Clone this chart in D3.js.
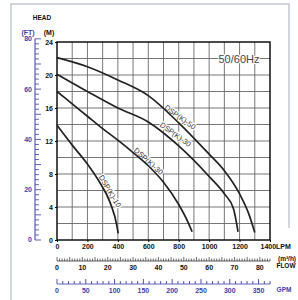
<!DOCTYPE html>
<html>
<head>
  <script src="https://cdn.jsdelivr.net/npm/d3@7"></script>
  <style>
    body { margin: 0; background: #fff; }
    text { font-family: "Liberation Sans", Arial, sans-serif; }
  </style>
</head>
<body>
  <svg width="298" height="300" id="mainsvg"></svg>
  <script>
    // data
    const flowTicks = [0, 200, 400, 600, 800, 1000, 1200, 1400];
    const headTicks = [0, 4, 8, 12, 16, 20, 24];
    const ftTicks = [0, 20, 40, 60, 80];
    const m3hTicks = [0, 10, 20, 30, 40, 50, 60, 70, 80];
    const gpmTicks = [0, 50, 100, 150, 200, 250, 300, 350];

    const pumpNames = ['DSP(K)-50', 'DSP(K)-30', 'DSP(K)-30', 'DSP(K)-10'];
    const flowA = [0, 200, 400, 600, 800, 1000, 1100, 1200, 1260, 1300];
    const headA = [22.1, 21.0, 19.4, 17.5, 14.2, 10.4, 8.4, 5.6, 3.2, 0.9];
    const flowB = [0, 200, 400, 600, 800, 1000, 1100, 1160, 1190];
    const headB = [20.1, 18.0, 16.0, 14.3, 11.4, 7.7, 5.6, 3.8, 1.0];
    const flowC = [0, 100, 200, 300, 400, 500, 600, 700, 800, 860, 888];
    const headC = [18.0, 16.5, 15.0, 13.5, 12.1, 10.6, 9.0, 7.0, 4.3, 2.2, 1.0];
    const flowD = [0, 100, 200, 280, 350, 395, 402];
    const headD = [13.9, 11.5, 9.2, 7.0, 4.5, 1.6, 0.8];
    // label anchor on the curve (flow, head) and angle
    const labelFlow = [790, 760, 580, 320];
    const labelHead = [14.4, 12.3, 9.1, 5.6];
    const labelAngle = [36, 36, 42, 59];

    const svg = d3.select('#mainsvg');
    const plot = { left: 57, right: 270, top: 42, bottom: 240 };

    const x = d3.scaleLinear().domain([0, 1400]).range([plot.left, plot.right]);
    const y = d3.scaleLinear().domain([0, 24]).range([plot.bottom, plot.top]);
    const yFt = d3.scaleLinear().domain([0, 24 * 3.2808]).range([plot.bottom, plot.top]);
    const xM3 = d3.scaleLinear().domain([0, 84]).range([plot.left, plot.right]);
    const xGpm = d3.scaleLinear().domain([0, 1400 / 3.78541]).range([plot.left, plot.right]);

    const blue = '#3b3fa8';

    // outer frame
    svg.append('path')
      .attr('d', 'M11,300 L11,4 L289,4 L289,228')
      .attr('fill', 'none').attr('stroke', '#c4c8d0').attr('stroke-width', 1.5);

    // grid
    svg.append('g').selectAll('line').data(d3.range(100, 1400, 100)).enter().append('line')
      .attr('x1', d => x(d)).attr('x2', d => x(d))
      .attr('y1', plot.top).attr('y2', plot.bottom)
      .attr('stroke', '#666').attr('stroke-width', 0.9);
    svg.append('g').selectAll('line').data(d3.range(2, 24, 2)).enter().append('line')
      .attr('y1', d => y(d)).attr('y2', d => y(d))
      .attr('x1', plot.left).attr('x2', plot.right)
      .attr('stroke', '#666').attr('stroke-width', 0.9);

    svg.append('rect')
      .attr('x', plot.left).attr('y', plot.top)
      .attr('width', plot.right - plot.left).attr('height', plot.bottom - plot.top)
      .attr('fill', 'none').attr('stroke', '#111').attr('stroke-width', 1.5);

    // labels sit just above their curve, with a white halo over the grid
    const off = 5;
    svg.append('g').selectAll('text').data(pumpNames).enter().append('text')
      .attr('transform', (d, i) => {
        const a = labelAngle[i] * Math.PI / 180;
        const px = x(labelFlow[i]) + off * Math.sin(a);
        const py = y(labelHead[i]) - off * Math.cos(a);
        return `translate(${px},${py}) rotate(${labelAngle[i]})`;
      })
      .attr('text-anchor', 'middle').attr('dy', '0.35em')
      .attr('font-size', 7.5).attr('fill', '#333')
      .attr('stroke', '#fff').attr('stroke-width', 2.5).attr('paint-order', 'stroke')
      .text(d => d);

    // curves
    const line = d3.line().x(d => x(d[0])).y(d => y(d[1])).curve(d3.curveMonotoneX);
    const curves = [
      d3.zip(flowA, headA), d3.zip(flowB, headB), d3.zip(flowC, headC), d3.zip(flowD, headD)
    ];
    svg.append('g').selectAll('path').data(curves).enter().append('path')
      .attr('d', line)
      .attr('fill', 'none').attr('stroke', '#222').attr('stroke-width', 1.7);

    svg.append('text')
      .attr('x', 239).attr('y', 63).attr('text-anchor', 'middle')
      .attr('font-size', 11).attr('fill', '#444')
      .attr('stroke', '#fff').attr('stroke-width', 2).attr('paint-order', 'stroke')
      .text('50/60Hz');

    // head axis (m)
    const yAxisG = svg.append('g').attr('transform', `translate(${plot.left},0)`)
      .call(d3.axisLeft(y).tickValues(headTicks).tickSize(2).tickPadding(2));
    yAxisG.select('.domain').remove();
    yAxisG.selectAll('text').attr('font-size', 7).attr('font-weight', 'bold')
      .attr('font-family', '"Liberation Sans", Arial, sans-serif').attr('fill', '#111');

    // head axis (ft)
    const ftG = svg.append('g').attr('transform', 'translate(35,0)');
    ftG.append('line').attr('y1', yFt(0)).attr('y2', yFt(80)).attr('stroke', blue).attr('stroke-width', 1);
    ftG.selectAll('line.t').data(d3.range(0, 81, 2)).enter().append('line')
      .attr('class', 't')
      .attr('y1', d => yFt(d)).attr('y2', d => yFt(d))
      .attr('x1', 0).attr('x2', d => d % 10 === 0 ? 6 : 4)
      .attr('stroke', blue).attr('stroke-width', 0.8);
    ftG.selectAll('text').data(ftTicks).enter().append('text')
      .attr('x', -3).attr('y', d => yFt(d)).attr('dy', '0.35em')
      .attr('text-anchor', 'end').attr('font-size', 7).attr('font-weight', 'bold')
      .attr('fill', blue).text(d => d);

    svg.append('text').attr('x', 42).attr('y', 20).attr('text-anchor', 'middle')
      .attr('font-size', 6.5).attr('font-weight', 'bold').attr('fill', '#111').text('HEAD');
    svg.append('text').attr('x', 49).attr('y', 35).attr('text-anchor', 'middle')
      .attr('font-size', 7).attr('font-weight', 'bold').attr('fill', '#111').text('(M)');
    svg.append('text').attr('x', 28).attr('y', 35).attr('text-anchor', 'middle')
      .attr('font-size', 7).attr('font-weight', 'bold').attr('fill', blue).text('(FT)');

    // flow axis (LPM)
    const xAxisG = svg.append('g').attr('transform', `translate(0,${plot.bottom})`)
      .call(d3.axisBottom(x).tickValues(flowTicks).tickSize(2).tickPadding(2)
        .tickFormat(d => d === 1400 ? '1400LPM' : d));
    xAxisG.select('.domain').remove();
    xAxisG.selectAll('text').attr('font-size', 7).attr('font-weight', 'bold')
      .attr('font-family', '"Liberation Sans", Arial, sans-serif').attr('fill', '#111');
    xAxisG.selectAll('.tick').filter(d => d === 1400).select('text')
      .attr('text-anchor', 'start').attr('x', -10);

    // flow axis (m3/h)
    const m3G = svg.append('g').attr('transform', 'translate(0,261)');
    m3G.append('line').attr('x1', xM3(0)).attr('x2', xM3(84)).attr('stroke', '#333').attr('stroke-width', 0.8);
    m3G.selectAll('line.t').data(d3.range(0, 85, 1)).enter().append('line')
      .attr('class', 't')
      .attr('x1', d => xM3(d)).attr('x2', d => xM3(d))
      .attr('y1', 0).attr('y2', d => d % 5 === 0 ? -4 : -2.5)
      .attr('stroke', '#333').attr('stroke-width', 0.7);
    m3G.selectAll('text').data(m3hTicks).enter().append('text')
      .attr('x', d => xM3(d)).attr('y', 9).attr('text-anchor', 'middle')
      .attr('font-size', 7).attr('font-weight', 'bold').attr('fill', '#111').text(d => d);
    svg.append('text').attr('x', 287).attr('y', 261).attr('text-anchor', 'middle')
      .attr('font-size', 6.5).attr('font-weight', 'bold').attr('fill', '#111').text('(m³/h)');
    svg.append('text').attr('x', 286).attr('y', 268).attr('text-anchor', 'middle')
      .attr('font-size', 6.5).attr('font-weight', 'bold').attr('fill', '#111').text('FLOW');

    // flow axis (GPM)
    const gpmG = svg.append('g').attr('transform', 'translate(0,284)');
    gpmG.append('line').attr('x1', xGpm(0)).attr('x2', xGpm(370)).attr('stroke', blue).attr('stroke-width', 0.8);
    gpmG.selectAll('line.t').data(d3.range(0, 371, 10)).enter().append('line')
      .attr('class', 't')
      .attr('x1', d => xGpm(d)).attr('x2', d => xGpm(d))
      .attr('y1', 0).attr('y2', d => d % 50 === 0 ? -5 : -3)
      .attr('stroke', blue).attr('stroke-width', 0.9);
    gpmG.selectAll('text').data(gpmTicks).enter().append('text')
      .attr('x', d => xGpm(d)).attr('y', 9).attr('text-anchor', 'middle')
      .attr('font-size', 7).attr('font-weight', 'bold').attr('fill', blue).text(d => d);
    svg.append('text').attr('x', 284).attr('y', 292).attr('text-anchor', 'middle')
      .attr('font-size', 6.5).attr('font-weight', 'bold').attr('fill', blue).text('GPM');
  </script>
</body>
</html>
